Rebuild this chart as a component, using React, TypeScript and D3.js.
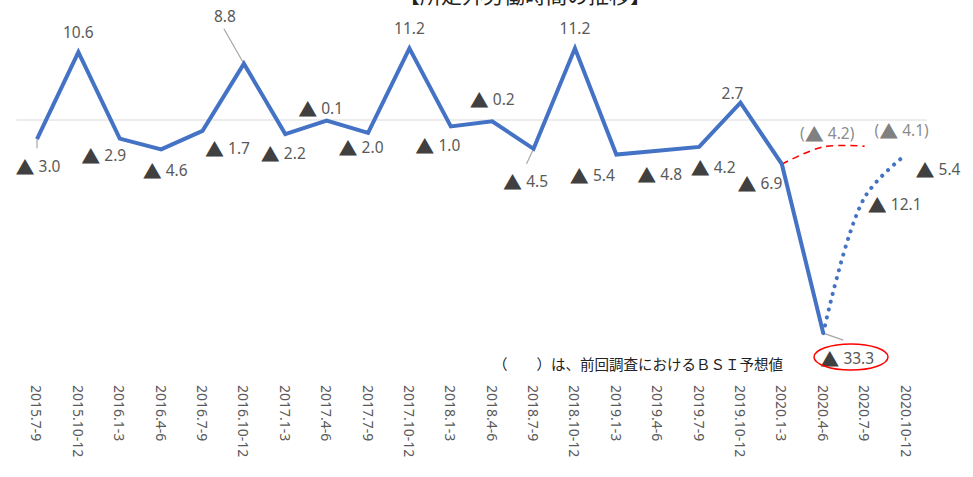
import * as d3 from "d3";

const categories = [
  "2015.7-9", "2015.10-12", "2016.1-3", "2016.4-6", "2016.7-9", "2016.10-12",
  "2017.1-3", "2017.4-6", "2017.7-9", "2017.10-12", "2018.1-3", "2018.4-6",
  "2018.7-9", "2018.10-12", "2019.1-3", "2019.4-6", "2019.7-9", "2019.10-12",
  "2020.1-3", "2020.4-6", "2020.7-9", "2020.10-12",
];

// actual results (up to 2020.4-6), then current forecast
const actual = [
  -3.0, 10.6, -2.9, -4.6, -1.7, 8.8, -2.2, -0.1, -2.0, 11.2, -1.0, -0.2,
  -4.5, 11.2, -5.4, -4.8, -4.2, 2.7, -6.9, -33.3,
];
const forecast = [-33.3, -12.1, -5.4]; // 2020.4-6 .. 2020.10-12
const prevForecast = [-6.9, -4.2, -4.1]; // 2020.1-3 .. 2020.7-9

// label offsets from each point (dx, dy)
const labelDx = [1, 0, -16, 4, 25, -19, -2, -6, -7, 0, -13, 0, -8, 0, -24, 2, 14, -8, -22, 24, 30, 32];
const labelDy = [27, -20, 16, 21, 17, -48, 19, -13, 14, -20, 19, -22, 32, -20, 20, 23, 20, -10, 19, 25, 7, 14];
const prevDx = [4, 37];
const prevDy = [-14, -16];
// leader lines: point index -> end offset
const leaders: [number, number, number][] = [
  [0, 0, 9],
  [5, -20, -35],
  [12, -7, 15],
  [19, 20, 7],
];

const W = 973;
const H = 477;

const fmt = (v: number) => Math.abs(v).toFixed(1);

function Label({ x, y, v, paren, color, triColor }: any) {
  const neg = v < 0;
  return (
    <text
      x={x}
      y={y}
      textAnchor="middle"
      dominantBaseline="central"
      fontFamily="'Noto Sans', sans-serif"
      fontSize={15.5}
      fill={color}
    >
      {paren ? "(" : ""}
      {neg ? (
        <tspan fontFamily="'Noto Sans CJK JP'" fontSize={19} fill={triColor}>
          ▲
        </tspan>
      ) : null}
      {neg ? " " : ""}
      {fmt(v)}
      {paren ? ")" : ""}
    </text>
  );
}

export default function App() {
  const x = d3.scalePoint<string>().domain(categories).range([16.3, 926.7]).padding(0.5);
  const y = d3.scaleLinear().domain([-35, 15]).range([344, 24]);

  const px = (i: number) => x(categories[i]) as number;

  const solid = d3
    .line<number>()
    .x((_, i) => px(i))
    .y((d) => y(d));
  const smooth = (start: number) =>
    d3
      .line<number>()
      .x((_, i) => px(start + i))
      .y((d) => y(d))
      .curve(d3.curveCatmullRom.alpha(0.5));

  const axisColor = "#595959";

  return (
    <svg
      width={W}
      height={H}
      style={{ position: "absolute", left: 0, top: 0, background: "#fff" }}
    >
      <text
        x={525}
        y={3}
        textAnchor="middle"
        fontFamily="'Noto Sans CJK JP'"
        fontSize={21}
        fill="#222"
      >
        【所定外労働時間の推移】
      </text>

      <line x1={16.3} x2={926.7} y1={y(0)} y2={y(0)} stroke="#d9d9d9" strokeWidth={1.2} />

      {leaders.map(([i, dx, dy]) => (
        <line
          key={i}
          x1={px(i)}
          y1={y(actual[i])}
          x2={px(i) + dx}
          y2={y(actual[i]) + dy}
          stroke="#a6a6a6"
          strokeWidth={1.2}
        />
      ))}

      <path
        d={smooth(18)(prevForecast) || ""}
        fill="none"
        stroke="#ff0000"
        strokeWidth={1.6}
        strokeDasharray="7 5"
      />
      <path
        d={smooth(19)(forecast) || ""}
        fill="none"
        stroke="#4472c4"
        strokeWidth={4}
        strokeLinecap="round"
        strokeDasharray="0.1 8"
      />
      <path
        d={solid(actual) || ""}
        fill="none"
        stroke="#4472c4"
        strokeWidth={4}
        strokeLinejoin="miter"
      />

      {actual.map((v, i) => (
        <Label
          key={"a" + i}
          x={px(i) + labelDx[i]}
          y={y(v) + labelDy[i]}
          v={v}
          color="#595959"
          triColor="#404040"
        />
      ))}
      {forecast.slice(1).map((v, k) => {
        const i = 20 + k;
        return (
          <Label
            key={"f" + i}
            x={px(i) + labelDx[i]}
            y={y(v) + labelDy[i]}
            v={v}
            color="#595959"
            triColor="#404040"
          />
        );
      })}
      {prevForecast.slice(1).map((v, k) => {
        const i = 19 + k;
        return (
          <Label
            key={"p" + i}
            x={px(i) + prevDx[k]}
            y={y(v) + prevDy[k]}
            v={v}
            paren
            color="#8c8c8c"
            triColor="#808080"
          />
        );
      })}

      <ellipse cx={851} cy={357} rx={37} ry={13} fill="none" stroke="#ff0000" strokeWidth={1.5} />

      <text
        x={493}
        y={363}
        dominantBaseline="central"
        fontFamily="'Noto Sans CJK JP'"
        fontSize={14.5}
        fill="#222"
      >
        （　　）は、前回調査におけるＢＳＩ予想値
      </text>

      {categories.map((c) => (
        <text
          key={c}
          transform={`translate(${x(c)},385) rotate(90)`}
          dominantBaseline="central"
          fontFamily="'Noto Sans', sans-serif"
          fontSize={14}
          fill={axisColor}
        >
          {c}
        </text>
      ))}
    </svg>
  );
}
